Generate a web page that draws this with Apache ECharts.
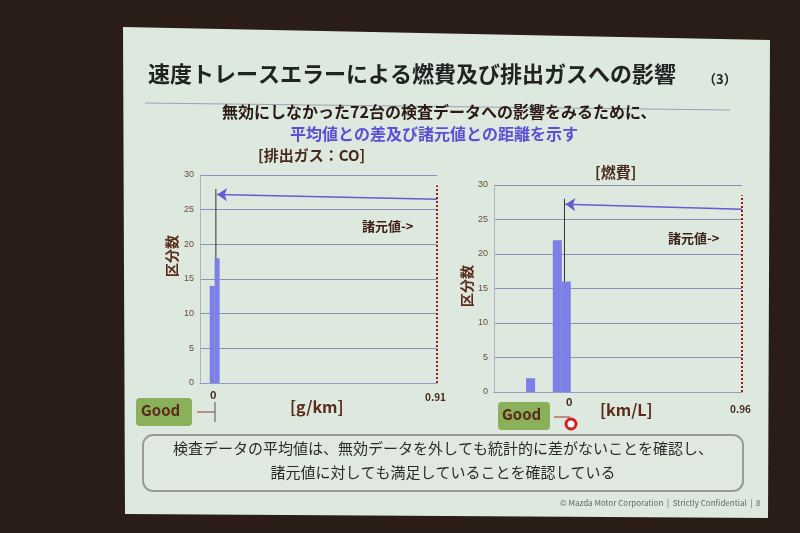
<!DOCTYPE html><html><head><meta charset="utf-8"><script src="https://cdn.jsdelivr.net/npm/echarts@6/dist/echarts.min.js"></script>
<style>body{margin:0;background:#2a1c16}#c{width:800px;height:533px}</style></head><body><div id="c"></div><script>
const yTicks=[0,5,10,15,20,25,30];
const coBins=[-0.01,0.01], coCounts=[14,18];
const fuelBins=[-0.225,-0.075,-0.025], fuelCounts=[2,22,16];
const coSpec=0.91, fuelSpec=0.96;
const coMean=0.005, fuelMean=-0.035;
const coMeanStart=18, fuelMeanStart=16;
const F='"Noto Sans CJK JP",sans-serif';
const ch=echarts.init(document.getElementById('c'));
function mk(i,bins,counts,spec,mean,ms,bw){
 return [
 {type:'bar',xAxisIndex:i,yAxisIndex:i,barWidth:bw,barGap:0,itemStyle:{color:'#7b7fe6'},data:bins.map((b,k)=>[b,counts[k]])},
 {type:'line',xAxisIndex:i,yAxisIndex:i,symbol:'none',lineStyle:{color:'#a01818',type:'dotted',width:2},data:[[spec,0],[spec,28.5]]},
 {type:'line',xAxisIndex:i,yAxisIndex:i,symbol:'none',lineStyle:{color:'#333',width:1},data:[[mean,ms],[mean,28]]},
 {type:'lines',coordinateSystem:'cartesian2d',xAxisIndex:i,yAxisIndex:i,symbol:['none','arrow'],symbolSize:10,lineStyle:{color:'#6a5ad0',width:1.5,opacity:1},data:[{coords:[[spec,26.5],[mean+0.005,27.2]]}]}
 ];
}
const ax=(gi,min,max)=>({type:'value',gridIndex:gi,min:min,max:max,axisLine:{lineStyle:{color:'#9a9ac0'}},axisTick:{show:false},splitLine:{show:false},axisLabel:{show:false}});
const ya=gi=>({type:'value',gridIndex:gi,min:0,max:30,interval:5,axisLine:{show:true,onZero:false,lineStyle:{color:'#b0b0c8'}},axisTick:{show:false},splitLine:{lineStyle:{color:'#8e8eb8'}},axisLabel:{color:'#6a4a3a',fontSize:9,margin:6}});
const txt=(x,y,t,s,c,w,a)=>({type:'text',style:{x:x,y:y,text:t,fontSize:s,fill:c||'#3a1f14',fontWeight:w||'bold',fontFamily:F,textAlign:a||'left',textVerticalAlign:'top'}});
ch.setOption({animation:false,
 grid:[{left:200,top:175,width:237,height:208},{left:494,top:185,width:248,height:207}],
 xAxis:[ax(0,-0.06,0.91),ax(1,-0.43,0.96)],yAxis:[ya(0),ya(1)],
 series:[...mk(0,coBins,coCounts,coSpec,coMean,coMeanStart,5),...mk(1,fuelBins,fuelCounts,fuelSpec,fuelMean,fuelMeanStart,9)],
 graphic:[
  {type:'polygon',z:-10,shape:{points:[[123,27],[770,40],[768,518],[125,514]]},style:{fill:'#dde8de'}},
  {type:'line',z:-5,shape:{x1:145,y1:103,x2:730,y2:110},style:{stroke:'#9aa0b8',lineWidth:1}},
  txt(148,63,'速度トレースエラーによる燃費及び排出ガスへの影響',22,'#222'),
  txt(703,73,'（3）',13,'#222'),
  txt(222,104,'無効にしなかった72台の検査データへの影響をみるために、',16,'#2a1a14'),
  txt(290,126,'平均値との差及び諸元値との距離を示す',16,'#5a4fd6'),
  txt(258,148,'[排出ガス：CO]',15,'#4a2a1e'),
  txt(595,165,'[燃費]',15,'#4a2a1e'),
  {type:'text',left:165,top:235,rotation:Math.PI/2,style:{text:'区分数',fontSize:14,fill:'#5a2a1a',fontWeight:'bold',fontFamily:F}},
  {type:'text',left:460,top:265,rotation:Math.PI/2,style:{text:'区分数',fontSize:14,fill:'#5a2a1a',fontWeight:'bold',fontFamily:F}},
  txt(362,220,'諸元値->',13,'#3a1f14'),txt(668,232,'諸元値->',13,'#3a1f14'),
  txt(210,389,'0',11,'#4a2a1e'),txt(425,392,'0.91',10,'#4a2a1e'),
  txt(566,396,'0',11,'#4a2a1e'),txt(730,404,'0.96',10,'#4a2a1e'),
  txt(290,399,'[g/km]',16,'#5a2a1a'),txt(600,402,'[km/L]',16,'#5a2a1a'),
  {type:'rect',shape:{x:136,y:398,width:56,height:28,r:4},style:{fill:'#8ab05a'}},
  txt(141,403,'Good',15,'#5a2a1a'),
  {type:'line',shape:{x1:197,y1:412,x2:215,y2:412},style:{stroke:'#a03030',lineWidth:1}},
  {type:'line',shape:{x1:215,y1:402,x2:215,y2:422},style:{stroke:'#555',lineWidth:1}},
  {type:'rect',shape:{x:498,y:402,width:52,height:28,r:4},style:{fill:'#8ab05a'}},
  txt(502,407,'Good',15,'#5a2a1a'),
  {type:'line',shape:{x1:554,y1:417,x2:570,y2:417},style:{stroke:'#a03030',lineWidth:1}},
  {type:'circle',shape:{cx:571,cy:424,r:5},style:{fill:'#fff',stroke:'#d02020',lineWidth:3}},
  {type:'rect',z:-1,shape:{x:143,y:435,width:600,height:56,r:10},style:{fill:'#dfe9df',stroke:'#9a9a9a',lineWidth:2}},
  txt(443,441,'検査データの平均値は、無効データを外しても統計的に差がないことを確認し、',15,'#2a2a2a','normal','center'),
  txt(443,465,'諸元値に対しても満足していることを確認している',15,'#2a2a2a','normal','center'),
  txt(560,499,'© Mazda Motor Corporation  |  Strictly Confidential  |  8',8,'#666','normal')
 ]});
</script></body></html>
